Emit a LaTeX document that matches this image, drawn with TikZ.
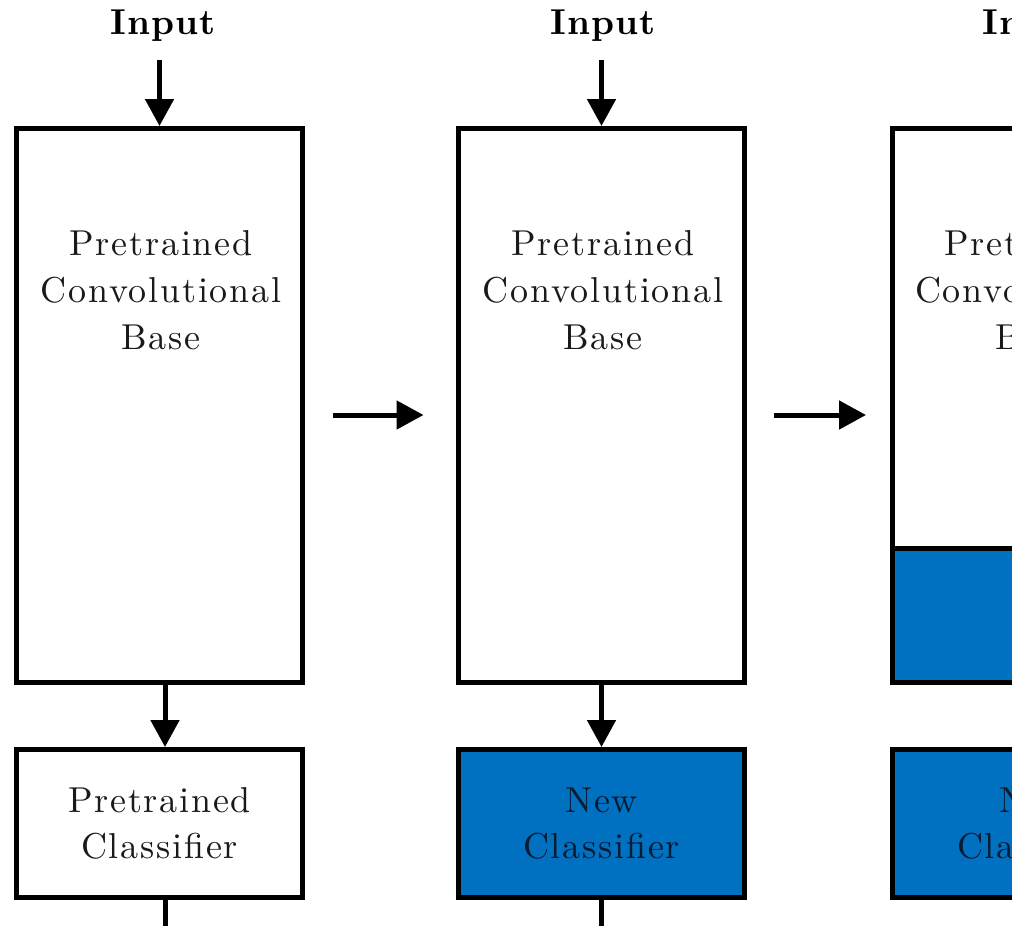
\documentclass[tikz,border=0pt]{standalone}
\usepackage{fontspec}
\newfontfamily\bodyfont{lmroman10-regular}[Extension=.otf,LetterSpace=5]
\newfontfamily\infont{lmroman10-bold}[Extension=.otf,LetterSpace=3]
\usetikzlibrary{arrows.meta}
\definecolor{boxblue}{HTML}{0070C0}
\definecolor{txt}{HTML}{1A1A1A}
\definecolor{bluetxt}{HTML}{0A1A30}
\begin{document}
\begin{tikzpicture}[x=1pt,y=-1pt,
  box/.style={draw=black,line width=5pt,rectangle,inner sep=0pt,minimum width=286pt},
  bigbox/.style={box,fill=white,minimum height=554pt},
  clsbox/.style={box,minimum height=148pt,align=center,font=\bodyfont\fontsize{36}{46}\selectfont,text=txt},
  newbox/.style={clsbox,fill=boxblue,text=bluetxt},
  lbl/.style={align=center,font=\bodyfont\fontsize{36}{47}\selectfont,text=txt,inner sep=0pt},
  inlbl/.style={font=\infont\fontsize{36}{40}\selectfont,text=black,inner sep=0pt},
  arr/.style={line width=5pt,-{Triangle[length=27pt,width=28pt]}},
  ln/.style={line width=5pt}]
\useasboundingbox (0,0) rectangle (1012,926);
\clip (0,0) rectangle (1012,926);
% column 1
\node[inlbl] (in1) at (163,26) {Input};
\node[bigbox] (base1) at (159.5,405.5) {};
\node[lbl] (t1) at (161,290) {Pretrained\\Convolutional\\Base};
\node[clsbox,fill=white] (cls1) at (159.5,823.5) {Pretrained\\Classifier};
% column 2
\node[inlbl] (in2) at (603,26) {Input};
\node[bigbox] (base2) at (601.5,405.5) {};
\node[lbl] (t2) at (603,290) {Pretrained\\Convolutional\\Base};
\node[newbox] (cls2) at (601.5,823.5) {New\\Classifier};
% column 3
\node[inlbl] (in3) at (1035,26) {Input};
\node[bigbox] (base3) at (1035.5,405.5) {};
\node[box,fill=boxblue,minimum height=134.5pt] (ft3) at (1035.5,615.25) {};
\node[lbl] (t3) at (1035.5,290) {Pretrained\\Convolutional\\Base};
\node[newbox] (cls3) at (1035.5,823.5) {New\\Classifier};
% connectors
\draw[arr] ([yshift=-18pt]in1.south -| base1.north) -- (base1.north);
\draw[arr] ([yshift=-18pt]in2.south -| base2.north) -- (base2.north);
\draw[arr] ([yshift=-18pt]in3.south) -- (base3.north);
\draw[arr] ([xshift=5.5pt]base1.south) -- ([xshift=5.5pt]cls1.north);
\draw[arr] (base2.south) -- (cls2.north);
\draw[arr] (base3.south) -- (cls3.north);
\draw[arr] ([xshift=27.5pt,yshift=-9.5pt]base1.east) -- ([xshift=-32.5pt,yshift=-9.5pt]base2.west);
\draw[arr] ([xshift=26.5pt,yshift=-9.5pt]base2.east) -- ([xshift=-24pt,yshift=-9.5pt]base3.west);
\coordinate (o1) at (165,940);
\coordinate (o2) at (601.5,940);
\coordinate (o3) at (1035.5,940);
\draw[ln] ([xshift=5.5pt]cls1.south) -- (o1);
\draw[ln] (cls2.south) -- (o2);
\draw[ln] (cls3.south) -- (o3);
\end{tikzpicture}
\end{document}
